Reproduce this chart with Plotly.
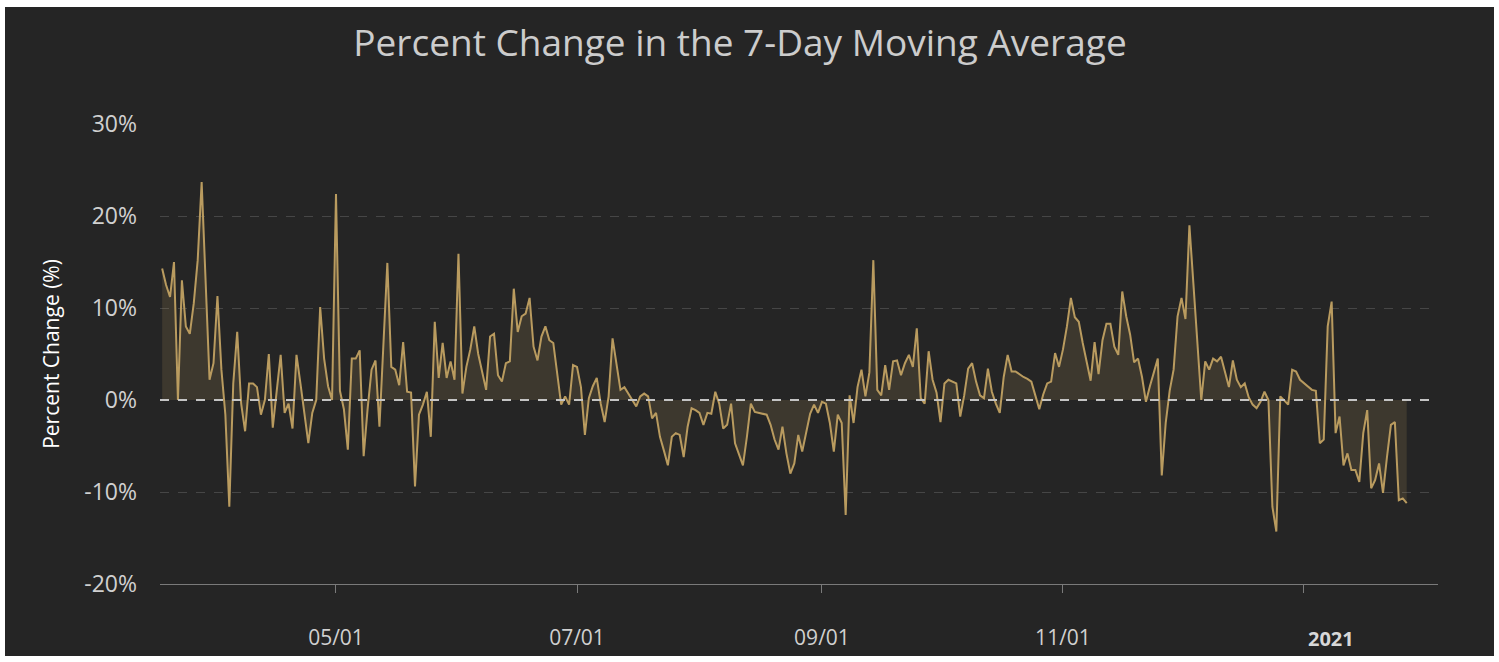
import pandas as pd
import plotly.graph_objects as go

# Daily percent change in 7-day moving average, 2020-03-18 .. 2021-01-27
mar_2020 = [14.3, 12.5, 11.2, 15.0, 0.0, 13.0, 8.0, 7.2, 10.5, 15.2, 23.7, 12.0, 2.2, 4.0]
apr_2020 = [11.3, 3.3, -1.6, -11.6, 1.8, 7.4, -0.4, -3.4, 1.8, 1.8,
            1.4, -1.6, 0.0, 5.0, -3.0, 1.0, 4.9, -1.4, -0.4, -3.1,
            4.9, 1.8, -1.5, -4.7, -1.4, 0.0, 10.1, 4.5, 1.5, 0.0]
may_2020 = [22.4, 1.0, -1.0, -5.4, 4.5, 4.5, 5.4, -6.1, -1.0, 3.3,
            4.3, -2.9, 6.0, 14.9, 3.6, 3.3, 1.6, 6.3, 0.9, 0.8,
            -9.4, -1.6, -0.5, 0.9, -4.0, 8.5, 2.4, 6.2, 2.4, 4.2, 2.2]
jun_2020 = [15.9, 0.7, 3.6, 5.5, 8.0, 5.0, 3.0, 1.1, 6.9, 7.2,
            2.7, 2.0, 4.0, 4.2, 12.1, 7.4, 9.1, 9.4, 11.1, 5.8,
            4.3, 6.9, 8.0, 6.5, 6.2, 2.9, -0.5, 0.4, -0.5, 3.8]
jul_2020 = [3.6, 1.4, -3.8, 0.2, 1.5, 2.4, -0.4, -2.4, 0.4, 6.7,
            4.0, 1.1, 1.4, 0.7, 0.0, -0.7, 0.4, 0.7, 0.4, -2.0,
            -1.4, -4.0, -5.5, -7.1, -4.0, -3.6, -3.8, -6.2, -2.9, -0.9, -1.1]
aug_2020 = [-1.4, -2.7, -1.4, -1.5, 0.9, -0.4, -3.1, -2.7, -0.4, -4.7,
            -5.8, -7.1, -4.0, -0.4, -1.3, -1.4, -1.5, -1.6, -2.7, -4.3,
            -5.4, -2.9, -5.8, -8.0, -6.9, -3.8, -5.6, -3.6, -1.5, -0.5, -1.4]
sep_2020 = [-0.2, -0.4, -2.5, -5.6, -1.6, -2.5, -12.5, 0.5, -2.5, 1.4,
            3.3, 0.4, 3.0, 15.2, 1.1, 0.5, 3.8, 1.1, 4.2, 4.3,
            2.7, 4.0, 4.9, 3.6, 7.8, 0.2, -0.4, 5.3, 2.2, 0.8]
oct_2020 = [-2.4, 1.8, 2.2, 2.0, 1.8, -1.8, 0.5, 3.4, 4.0, 2.0,
            0.5, 0.2, 3.4, 0.9, -0.4, -1.4, 2.5, 4.9, 3.1, 3.1,
            2.8, 2.5, 2.3, 2.0, 0.5, -1.0, 0.6, 1.8, 2.0, 5.1, 3.6]
nov_2020 = [5.5, 8.0, 11.1, 9.0, 8.5, 6.2, 4.0, 2.1, 6.3, 2.8,
            6.5, 8.3, 8.3, 5.8, 4.9, 11.8, 9.1, 7.1, 4.1, 4.5,
            2.5, -0.2, 1.5, 3.0, 4.5, -8.2, -2.5, 1.0, 3.3, 9.1]
dec_2020 = [11.1, 8.8, 19.0, 12.7, 6.3, 0.0, 4.2, 3.3, 4.5, 4.2,
            4.7, 3.0, 1.4, 4.3, 2.2, 1.4, 1.8, 0.3, -0.5, -0.9,
            -0.2, 0.9, 0.0, -11.6, -14.3, 0.4, 0.0, -0.5, 3.3, 3.1, 2.2]
jan_2021 = [1.8, 1.5, 1.1, 1.0, -4.7, -4.3, 8.0, 10.7, -3.6, -1.8,
            -7.1, -5.8, -7.6, -7.6, -8.9, -3.6, -1.1, -9.6, -8.7, -6.9,
            -10.1, -6.2, -2.7, -2.4, -10.9, -10.7, -11.2]

values = (mar_2020 + apr_2020 + may_2020 + jun_2020 + jul_2020 + aug_2020 +
          sep_2020 + oct_2020 + nov_2020 + dec_2020 + jan_2021)
dates = pd.date_range("2020-03-18", periods=len(values), freq="D")

tick_dates = ["2020-05-01", "2020-07-01", "2020-09-01", "2020-11-01", "2021-01-01"]
tick_labels = ["05/01", "07/01", "09/01", "11/01", ""]
year_label = "<b>2021</b>"
y_ticks = [-20, -10, 0, 10, 20, 30]
y_labels = ["-20%", "-10%", "0%", "10%", "20%", "30%"]

BG = "#252525"
GOLD = "#b99b5f"
FONT = "Open Sans"

fig = go.Figure()
fig.add_trace(go.Scatter(
    x=dates, y=values, mode="lines",
    line=dict(color=GOLD, width=2),
    fill="tozeroy", fillcolor="rgba(185,155,95,0.16)",
    hoverinfo="x+y", showlegend=False,
))

W, H = 1499, 662
L, R, T, B = 160, 61, 124, 78
pw, ph = W - L - R, H - T - B

def px_x(p):
    return (p - L) / pw

def px_y(p):
    return (H - B - p) / ph

shapes = [
    # dark panel
    dict(type="rect", xref="paper", yref="paper",
         x0=px_x(5), x1=px_x(1494), y0=px_y(656), y1=px_y(7),
         fillcolor=BG, line=dict(width=0), layer="below"),
    # dashed zero line
    dict(type="line", xref="paper", yref="y", x0=0, x1=1, y0=0, y1=0,
         line=dict(color="#c4c4c4", width=2, dash="dash"), layer="above"),
]

annotations = [
    dict(text=year_label, x=tick_dates[-1], xref="x", y=px_y(638), yref="paper",
         xanchor="center", yanchor="middle", xshift=27, showarrow=False,
         font=dict(size=20, color="#d8d8d8", family=FONT)),
]

fig.update_layout(
    width=W, height=H,
    margin=dict(l=L, r=R, t=T, b=B),
    paper_bgcolor="white", plot_bgcolor=BG,
    font=dict(family=FONT, color="#d0d0d0"),
    title=dict(text="Percent Change in the 7-Day Moving Average",
               x=740 / W, xref="container", xanchor="center",
               y=1 - 43 / H, yref="container", yanchor="middle",
               font=dict(size=37, color="#cccccc", family=FONT)),
    shapes=shapes,
    annotations=annotations,
    xaxis=dict(
        type="date",
        range=["2020-03-17 11:00", "2021-02-03 22:00"],
        tickvals=tick_dates, ticktext=tick_labels,
        showgrid=False, zeroline=False,
        showline=True, linecolor="#7a7a7a", linewidth=1,
        ticks="outside", ticklen=8, tickcolor="#7a7a7a",
        tickfont=dict(size=21, color="#d0d0d0"),
        ticklabelstandoff=27,
    ),
    yaxis=dict(
        range=[-20, 30],
        tickvals=y_ticks, ticktext=y_labels,
        showgrid=True, gridcolor="#464646", griddash="dash", gridwidth=1,
        zeroline=False, showline=False,
        tickfont=dict(size=23, color="#d0d0d0"),
        ticklabelstandoff=22,
        title=dict(text="Percent Change (%)", standoff=18,
                   font=dict(size=21, color="#ffffff")),
    ),
)

fig.write_html("out.html", post_script="document.body.style.margin='0';",
               config={"displayModeBar": False})
